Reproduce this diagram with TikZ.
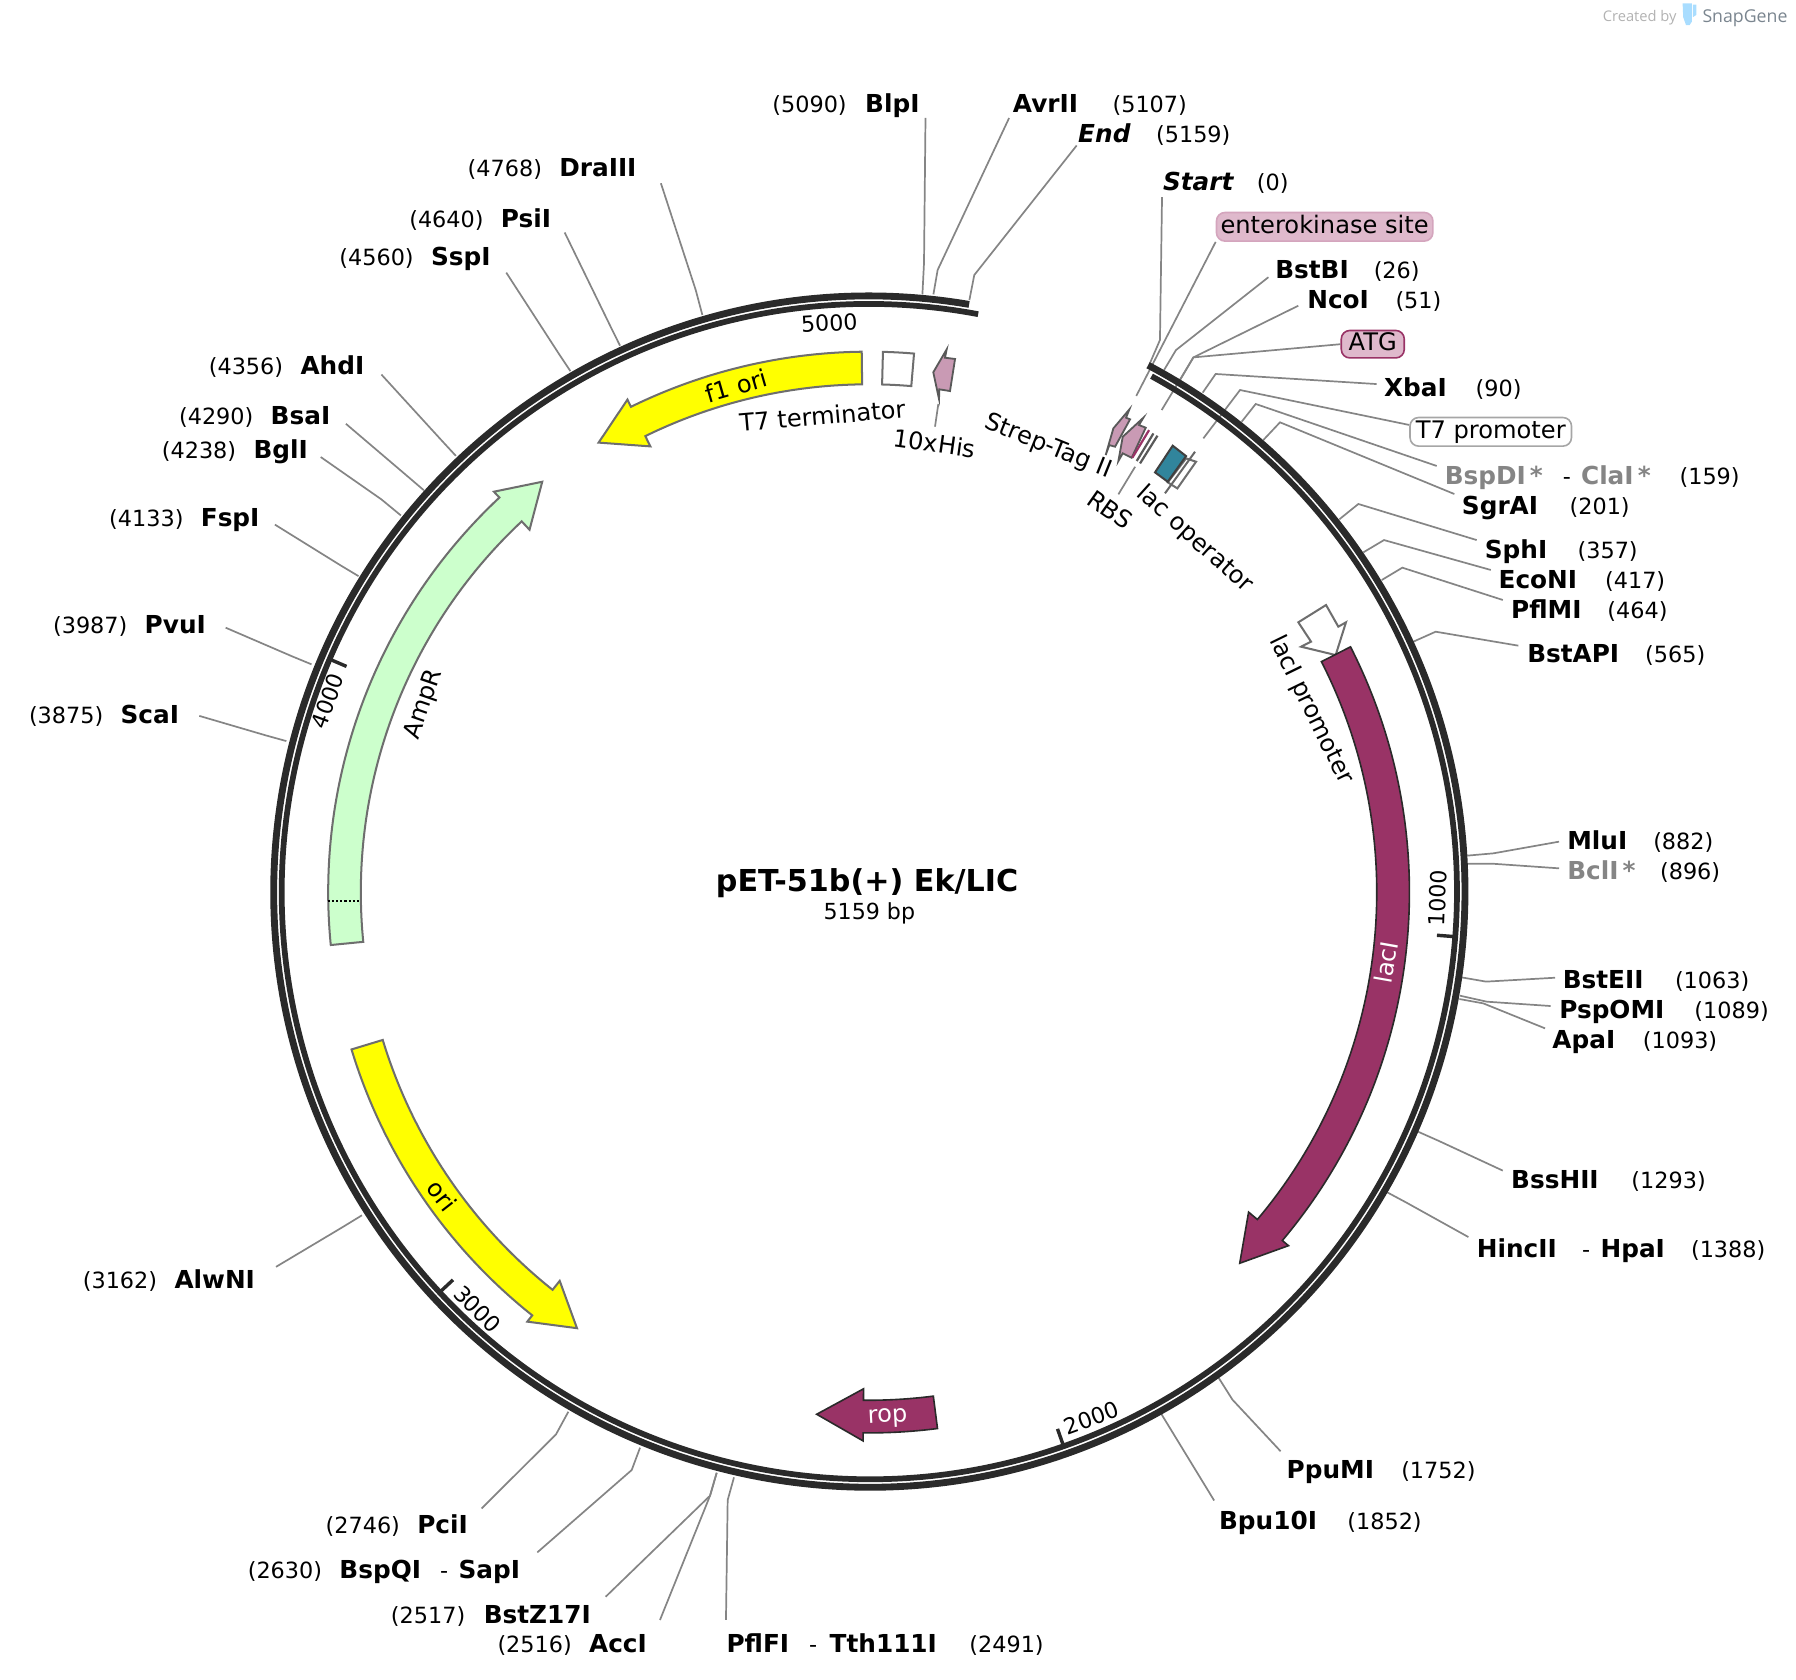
\documentclass[tikz,border=0pt]{standalone}
\usepackage{fontspec}
\setmainfont{DejaVu Sans}
\newfontfamily\brandfont{Open Sans}
\usepackage{tikz}
\definecolor{ringdark}{HTML}{2A2A2A}
\definecolor{leadgray}{HTML}{858585}
\definecolor{edgegray}{HTML}{6E6E6E}
\definecolor{purpfeat}{HTML}{993366}
\definecolor{pinkfeat}{HTML}{C99AB4}
\definecolor{pinkbox}{HTML}{DFB9CC}
\definecolor{tealfeat}{HTML}{31859C}
\definecolor{ampgreen}{HTML}{CCFFCC}
\definecolor{oriyellow}{HTML}{FFFF00}
\definecolor{snapblue}{HTML}{A9DDFF}
\definecolor{snapslate}{HTML}{7A858F}
\tikzset{every node/.style={font=\fontsize{12}{14}\selectfont, inner sep=0pt}}
\tikzset{site/.style={anchor=base west, font=\fontsize{12.3}{14}\selectfont\bfseries}}
\tikzset{sitedim/.style={site, text=leadgray}}
\tikzset{sitepos/.style={anchor=base west, font=\fontsize{11.1}{14}\selectfont}}
\tikzset{leader/.style={line width=0.85pt, leadgray}}
\tikzset{ringline/.style={ringdark}}
\tikzset{tickline/.style={line width=1.7pt, ringdark}}
\tikzset{ticklabel/.style={font=\fontsize{11}{13}\selectfont}}
\tikzset{featlight/.style={draw=edgegray, line width=1pt}}
\tikzset{featdark/.style={draw=ringdark, line width=0.8pt, fill=purpfeat}}
\tikzset{featpink/.style={draw=black!65, line width=0.9pt, fill=pinkfeat}}
\tikzset{boxlabel/.style={rounded corners=0.15cm, line width=0.8pt, text height=9pt, text depth=2.5pt}}
% start, base and tip of a feature arrow, clockwise from the top of the map
\newcommand{\featarrow}[4]{\draw[#1] ({#2-90}:472) arc[start angle={#2-90}, end angle={#3-90}, radius=472] -- ({#3-90}:479) -- ({#4-90}:458) -- ({#3-90}:433.5) -- ({#3-90}:443.5) arc[start angle={#3-90}, end angle={#2-90}, radius=443.5] -- cycle}
\newcommand{\siteline}[4]{\coordinate (#1-a) at (#2); \coordinate (#1-b) at (#3); \coordinate (#1-c) at (#4); \draw[leader] (#1-a) -- (#1-b) -- (#1-c)}
\newcommand{\mapring}[4]{\draw[ringline, line width=#4] ({#1-90}:#3) arc[start angle={#1-90}, end angle={#2-90}, radius=#3]}
\newcommand{\maptick}[1]{\draw[tickline] ({#1-90}:497) -- ({#1-90}:511)}

\begin{document}
\begin{tikzpicture}[x=0.02cm, y=-0.02cm]
	\useasboundingbox (0,0) rectangle (1568,1466.7);

	% Brand
	\node[text=black!30, font=\brandfont\fontsize{7.3}{9}\selectfont, anchor=west] (created) at (1399,15.5) {Created by};
	\node[text=snapslate, font=\brandfont\fontsize{8.8}{11}\selectfont, anchor=west] (brand) at (1486,15.5) {SnapGene};
	\fill[snapblue] (1469,3) -- (1477,3) -- (1477,19) -- (1475,22) -- (1472,22) -- (1469.5,15) -- cycle;
	\fill[snapblue] (1478,4) -- (1481,4) -- (1481,13) -- (1478,15) -- cycle;

	% Enzyme names
	\foreach \sname/\x/\y in {BlpI/755/98, AvrII/884/98, BstBI/1113/243, NcoI/1141/269, XbaI/1208/346, SgrAI/1276/449, SphI/1296/488, EcoNI/1308/514, PflMI/1319/540, BstAPI/1333/578, MluI/1368/742, BstEII/1364/863, PspOMI/1361/889, ApaI/1355/915, BssHII/1319/1038, HincII/1289/1098, HpaI/1397/1098, PpuMI/1123/1291, Bpu10I/1064/1335, Tth111I/724/1443, PflFI/634/1443, AccI/514/1443, BstZ17I/422/1417, SapI/400/1378, BspQI/296/1378, PciI/364/1339, AlwNI/152/1125, ScaI/105/632, PvuI/126/553, FspI/175/460, BglI/221/400, BsaI/236/371, AhdI/262/327, SspI/376/232, PsiI/437/199, DraIII/488/154}
		\node[site] (\sname) at (\x,\y) {\sname};
	\foreach \sname/\x/\y in {BspDI/1261/423, ClaI/1380/423, BclI/1368/768}
		\node[sitedim] (\sname) at (\x,\y) {\sname\,*};
	\node[site, font=\fontsize{12.3}{14}\selectfont\bfseries\itshape] (End) at (941,124) {End};
	\node[site, font=\fontsize{12.3}{14}\selectfont\bfseries\itshape] (Start) at (1015,166) {Start};

	% Positions
	\foreach \sname/\num/\x/\y in {BlpI/5090/674/98, AvrII/5107/971/98, End/5159/1009/124, Start/0/1097/166, BstBI/26/1199/243, NcoI/51/1218/269, XbaI/90/1288/346, ClaI/159/1466/423, SgrAI/201/1370/449, SphI/357/1377/488, EcoNI/417/1401/514, PflMI/464/1403/540, BstAPI/565/1436/578, MluI/882/1443/742, BclI/896/1449/768, BstEII/1063/1462/863, PspOMI/1089/1479/889, ApaI/1093/1434/915, BssHII/1293/1424/1038, HpaI/1388/1476/1098, PpuMI/1752/1223/1291, Bpu10I/1852/1176/1335, Tth111I/2491/846/1443, AccI/2516/434/1443, BstZ17I/2517/341/1417, BspQI/2630/216/1378, PciI/2746/284/1339, AlwNI/3162/72/1125, ScaI/3875/25/632, PvuI/3987/46/553, FspI/4133/95/460, BglI/4238/141/400, BsaI/4290/156/371, AhdI/4356/182/327, SspI/4560/296/232, PsiI/4640/357/199, DraIII/4768/408/154}
		\node[sitepos] (\sname-pos) at (\x,\y) {(\num)};
	%% Dashes between two enzymes
	\foreach \sname/\x/\y in {BspDI/1364/423, HincII/1381/1098, PflFI/706/1443, BspQI/384/1378}
		\node[sitepos] (\sname-sep) at (\x,\y) {-};

	% Boxed labels
	\node[boxlabel, draw=pinkbox!85!purpfeat, fill=pinkbox, minimum width=3.78cm, minimum height=0.5cm] (entero) at (1156.5,198) {enterokinase site};
	\node[boxlabel, draw=purpfeat, fill=pinkbox, minimum width=1.1cm, minimum height=0.48cm] (ATG) at (1198.5,300.5) {ATG};
	\node[boxlabel, draw=black!35, fill=white, minimum width=2.82cm, minimum height=0.5cm] (T7prom) at (1301.5,377) {T7 promoter};

	% Leaders
	\siteline{BlpI}{808,103}{806.7,229.7}{805.3,257};
	\siteline{AvrII}{881,103}{818.6,235.7}{814.9,257};
	\siteline{End}{940,127}{850.6,240.1}{846.3,262};
	\siteline{Start}{1014.5,172}{1012.7,296.8}{1004,317};
	\siteline{BstBI}{1107.4,242}{1026.7,305.6}{1016.3,323};
	\siteline{NcoI}{1133.5,266.9}{1041.9,312}{1030.2,331.8};
	\siteline{XbaI}{1201.9,335.3}{1061.3,326.5}{1050,342.8};
	\siteline{BspDI}{1254.3,406.8}{1096.3,352.7}{1084,368.2};
	\siteline{SgrAI}{1269.7,431.3}{1117.5,368.7}{1103,384.1};
	\siteline{SphI}{1289.2,471.5}{1185.9,440}{1169.3,453.4};
	\siteline{EcoNI}{1301.5,497.6}{1208.3,471.5}{1190.3,482.2};
	\siteline{PflMI}{1312,523.8}{1224.3,495.6}{1206.3,506.4};
	\siteline{BstAPI}{1325.6,563.7}{1253.4,551.5}{1233.9,560.2};
	\siteline{MluI}{1361.1,734.8}{1303.8,745}{1281,747};
	\siteline{BclI}{1361.1,758.1}{1302.3,754}{1281,754};
	\siteline{BstEII}{1357.6,853.6}{1297.4,857}{1276.1,853.3};
	\siteline{PspOMI}{1353.8,878.3}{1298,874.5}{1274.7,869.3};
	\siteline{ApaI}{1348.9,897.8}{1295,876}{1274.1,872.2};
	\siteline{BssHII}{1312,1022}{1256,996}{1238,988};
	\siteline{HincII}{1282,1080}{1228,1050}{1211.2,1041};
	\siteline{PpuMI}{1118,1267}{1076,1222}{1064,1203};
	\siteline{Bpu10I}{1060,1310}{1024,1251}{1013,1233};
	\siteline{PflFI}{633.8,1414.3}{635.3,1309.6}{640.8,1289.8};
	\siteline{AccI}{576.2,1414.3}{619.9,1305.8}{625.7,1285.8};
	\siteline{BstZ}{528.8,1394}{619.9,1305.8}{625.7,1285.8};
	\siteline{BspQI}{469.1,1355.3}{551.5,1283.4}{558.8,1263.9};
	\siteline{PciI}{420.5,1316.9}{485.4,1252.3}{496.2,1232.5};
	\siteline{AlwNI}{241,1106}{298,1072}{316,1061};
	\siteline{ScaI}{174,625}{232,642}{250,647};
	\siteline{PvuI}{197,548}{255,573}{272,580};
	\siteline{FspI}{240,458}{298,494}{313,503};
	\siteline{BglI}{280,399}{333,436}{350,450};
	\siteline{BsaI}{302,370}{356,416}{370,428};
	\siteline{AhdI}{333,327}{386,385}{398,398};
	\siteline{SspI}{442,238}{488,309}{498,324};
	\siteline{PsiI}{493,203}{533,285}{541.3,301.8};
	\siteline{DraIII}{577,160}{607.4,253.2}{613.2,275};
	%% Leaders of features
	\draw[leader] (entero.south west) -- (992,345.7);
	\coordinate (ATG-end) at (1014.2,358);
	\draw[leader] (ATG.west) -- (NcoI-b) -- (ATG-end);
	\coordinate (T7prom-b) at (1082.6,340.5);
	\coordinate (T7prom-end) at (1050.6,382.7);
	\draw[leader] ([yshift=0.12cm]T7prom.west) -- (T7prom-b) -- (T7prom-end);
	\coordinate (His-a) at (819.2,352.7);
	\coordinate (His-b) at (816.3,372.5);
	\draw[leader] (His-a) -- (His-b);
	\coordinate (RBS-a) at (991,407.5);
	\coordinate (RBS-b) at (976.4,431.6);
	\draw[leader] (RBS-a) -- (RBS-b);

	% Polygons of the small features
	\draw[featlight, fill=white] (1157.7,528.2) -- (1168.4,547.1) -- (1175.1,543.3) -- (1166.1,571.9) -- (1135.9,564.6) -- (1144.6,560.2) -- (1133.5,543.3) -- cycle;
	\draw[featpink] (826.5,305) -- (825,312.3) -- (833.8,313.4) -- (829.4,341.4) -- (820.1,339.9) -- (819.8,348.4) -- (814.8,325) -- cycle;
	\draw[featpink] (986,357.4) -- (983.1,364.7) -- (986.6,366.1) -- (973.5,390) -- (968.5,388.6) -- (965.3,397.3) -- (972,374) -- cycle;
	\draw[featpink] (998.2,364.7) -- (994.4,371.1) -- (1000.3,373.4) -- (988,399.6) -- (980.2,395.8) -- (976.4,402.5) -- (980.2,381.3) -- cycle;
	\draw[purpfeat, line width=1.1pt] (1003.2,375.5) -- (988.6,399.6);
	\draw[black!65, line width=1.1pt] (1007,378.4) -- (992.4,402.5);
	\draw[black!65, line width=1.1pt] (1010.5,380.4) -- (995.3,404.6);
	\draw[featlight, fill=white] (1035.5,400.2) -- (1044.2,403.1) -- (1027.9,426.4) -- (1019.5,421.1) -- cycle;
	\draw[draw=black!75, line width=1pt, fill=tealfeat] (1023.8,389.1) -- (1035.5,398.2) -- (1019.5,420.6) -- (1008.4,412.4) -- cycle;
	\draw[black!60, line width=1pt] (1043.3,394.4) -- (1017.1,430.7);

	% Map
	\begin{scope}[shift={(759,778.4)}]
		\mapring{9.64}{-332.1}{520}{3.4pt};
		\mapring{10.67}{-331.3}{513}{2.85pt};
		\foreach \ang in {94.4, 160.7, 227, 293.3}
			\maptick{\ang};
	\end{scope}

	\begin{scope}[shift={(758.5,779)}]
		% Features
		\featarrow{featlight, fill=oriyellow}{-0.75}{-26.1}{-31};
		\draw[featlight, fill=white] (-88.5:443.5) arc[start angle=-88.5, end angle=-85.2, radius=443.5] -- (-85.2:472) arc[start angle=-85.2, end angle=-88.5, radius=472] -- cycle;
		\featarrow{featdark}{63}{130.1}{135};
		\featarrow{featdark}{172.7}{180.6}{185.7};
		\featarrow{featlight, fill=oriyellow}{253.1}{218.5}{213.8};
		\featarrow{featlight, fill=ampgreen}{264.4}{316.9}{321.5};
	\end{scope}
	\coordinate (Amp-a) at (286,786.7);
	\coordinate (Amp-b) at (314.6,786.7);
	\draw[black, line width=1.1pt, densely dotted] (Amp-a) -- (Amp-b);

	% Feature names
	\node[rotate=16] (f1ori) at (643,337) {f1 ori};
	\node[rotate=5] (T7term) at (718,363) {T7 terminator};
	\node[rotate=-8] (His) at (816,387) {10xHis};
	\node[rotate=-22] (Strep) at (915,390) {Strep-Tag II};
	\node[rotate=-35] (RBS) at (969,445) {RBS};
	\node[rotate=-42] (lacop) at (1043,471) {lac operator};
	\node[rotate=-64] (lacprom) at (1144.5,620) {lacI promoter};
	\node[rotate=80, text=white] (lacI) at (1210,840) {lacI};
	\node[rotate=3, text=white] (rop) at (775,1238) {rop};
	\node[rotate=-52] (ori) at (386,1044) {ori};
	\node[rotate=71] (AmpR) at (370,615) {AmpR};

	% Tick numbers
	\node[ticklabel, rotate=3.5] (tick5) at (724,282) {5000};
	\node[ticklabel, rotate=88] (tick1) at (1255,784) {1000};
	\node[ticklabel, rotate=20] (tick2) at (953,1238) {2000};
	\node[ticklabel, rotate=-45] (tick3) at (417,1143) {3000};
	\node[ticklabel, rotate=70] (tick4) at (286,612) {4000};

	% Title
	\node[font=\fontsize{15}{17}\selectfont\bfseries] (title) at (757,771) {pET-51b(+) Ek/LIC};
	\node[ticklabel] (size) at (759,797) {5159 bp};
\end{tikzpicture}
\end{document}
